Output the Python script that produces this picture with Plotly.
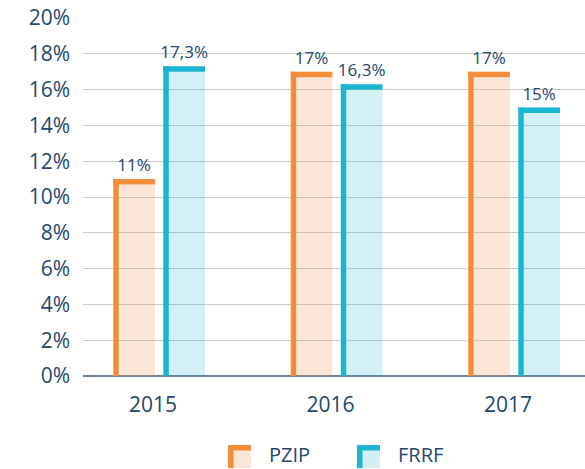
import plotly.graph_objects as go

# ---------------- data ----------------
years = ["2015", "2016", "2017"]
series_names = ["PZIP", "FRRF"]
pzip_values = [11, 17, 17]
frrf_values = [17.3, 16.3, 15]
pzip_labels = ["11%", "17%", "17%"]
frrf_labels = ["17,3%", "16,3%", "15%"]
y_tick_values = [0, 2, 4, 6, 8, 10, 12, 14, 16, 18, 20]
y_tick_labels = ["0%", "2%", "4%", "6%", "8%", "10%", "12%", "14%", "16%", "18%", "20%"]

# ---------------- geometry / style ----------------
W, H = 585, 469
ML, MR, MT, MB = 83, 0, 18, 93
PLOT_W = W - ML - MR
PLOT_H = H - MT - MB
CAT_PX = 177.5          # pixels between categories
FIRST_CAT_PX = 70       # first category centre from plot left
Y_MAX = 20
PX_PER_Y = PLOT_H / Y_MAX

BORDER_PX = 5.5
TX = BORDER_PX / CAT_PX
TY = BORDER_PX / PX_PER_Y
BAR_W = 0.235

TEXT = "#24476b"
FONT = "Open Sans"

styles = [
    dict(name=series_names[0], vals=pzip_values, labels=pzip_labels, offset=-0.224,
         dark="#f48c3a", fill="rgba(240,150,90,0.25)", legend_fill="#fbe6d8"),
    dict(name=series_names[1], vals=frrf_values, labels=frrf_labels, offset=0.058,
         dark="#1bb5d3", fill="rgba(20,175,205,0.19)", legend_fill="#d2eff5"),
]

xs = list(range(len(years)))
fig = go.Figure()
for s in styles:
    # light fill
    fig.add_trace(go.Bar(
        x=xs, y=[v - TY for v in s["vals"]], base=0,
        offset=s["offset"] + TX, width=BAR_W - TX,
        marker=dict(color=s["fill"], line=dict(width=0)),
        name=s["name"], showlegend=False, hoverinfo="skip"))
    # left border
    fig.add_trace(go.Bar(
        x=xs, y=s["vals"], base=0, offset=s["offset"], width=TX,
        marker=dict(color=s["dark"], line=dict(width=0)),
        name=s["name"], showlegend=False, hoverinfo="skip"))
    # top border + value label
    fig.add_trace(go.Bar(
        x=xs, y=[TY] * len(xs), base=[v - TY for v in s["vals"]],
        offset=s["offset"], width=BAR_W,
        marker=dict(color=s["dark"], line=dict(width=0)),
        text=s["labels"], textposition="outside", constraintext="none",
        textfont=dict(family=FONT, size=17, color=TEXT),
        cliponaxis=False, name=s["name"], showlegend=False))

# custom legend
def px_x(px):
    return (px - ML) / PLOT_W

def px_y(py):
    return (H - MB - py) / PLOT_H

shapes = []
annotations = []
legend_sym_x = [228, 357]
legend_text_x = [268, 397]
sym_top, sym_size = 445, 23
for s, sx, tx in zip(styles, legend_sym_x, legend_text_x):
    shapes.append(dict(type="rect", xref="paper", yref="paper",
                       x0=px_x(sx), x1=px_x(sx + sym_size),
                       y0=px_y(sym_top + sym_size), y1=px_y(sym_top),
                       fillcolor=s["legend_fill"], line=dict(width=0)))
    shapes.append(dict(type="rect", xref="paper", yref="paper",
                       x0=px_x(sx), x1=px_x(sx + BORDER_PX),
                       y0=px_y(sym_top + sym_size), y1=px_y(sym_top),
                       fillcolor=s["dark"], line=dict(width=0)))
    shapes.append(dict(type="rect", xref="paper", yref="paper",
                       x0=px_x(sx), x1=px_x(sx + sym_size),
                       y0=px_y(sym_top + BORDER_PX), y1=px_y(sym_top),
                       fillcolor=s["dark"], line=dict(width=0)))
    annotations.append(dict(xref="paper", yref="paper", x=px_x(tx), y=px_y(H),
                            xanchor="left", yanchor="bottom", showarrow=False,
                            borderpad=0, text=s["name"],
                            font=dict(family=FONT, size=20, color=TEXT)))

fig.update_layout(
    width=W, height=H,
    margin=dict(l=ML, r=MR, t=MT, b=MB, pad=0),
    paper_bgcolor="white", plot_bgcolor="white",
    barmode="overlay", showlegend=False,
    shapes=shapes, annotations=annotations,
    font=dict(family=FONT, color=TEXT),
    xaxis=dict(range=[-FIRST_CAT_PX / CAT_PX, (PLOT_W - FIRST_CAT_PX) / CAT_PX],
               tickvals=xs, ticktext=years, showgrid=False, zeroline=False,
               showline=False, ticks="", tickfont=dict(family=FONT, size=21, color=TEXT),
               ticklabelstandoff=14),
    yaxis=dict(range=[0, Y_MAX], tickvals=y_tick_values, ticktext=y_tick_labels,
               showgrid=True, gridcolor="#cccccc", gridwidth=1,
               zeroline=True, zerolinecolor="#6f8296", zerolinewidth=2,
               showline=False, ticks="", tickfont=dict(family=FONT, size=21, color=TEXT),
               ticklabelstandoff=12),
)

fig.write_html("out.html", config={"displayModeBar": False},
               post_script="document.body.style.margin='0';document.body.style.padding='0';")
